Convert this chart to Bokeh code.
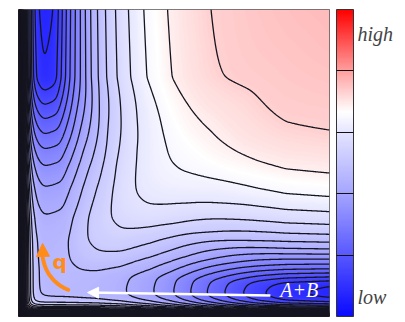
import numpy as np
from bokeh.plotting import figure
from bokeh.models import LinearColorMapper, ColorBar, FixedTicker, Arrow, NormalHead, Label
from bokeh.embed import file_html
from bokeh.resources import INLINE

# ---- data (normalized plot coordinates 0..1) ----
valley_left_p = 0.080      # centre of the left valley
valley_bottom_q = 0.068    # centre of the bottom valley
# across-valley rise: distance from valley centre (px) -> fraction of rise to plateau
across_px = [0, 11, 15, 19, 23, 27, 32, 37, 42, 47, 54, 62, 72, 85, 100, 124, 167, 250, 400]
across_g = [0.0, 0.035, 0.096, 0.158, 0.219, 0.280, 0.341, 0.403, 0.464, 0.525, 0.586,
            0.648, 0.709, 0.770, 0.831, 0.893, 0.954, 0.992, 1.0]
# valley floor along the left valley (vs q) and along the bottom valley (vs p)
left_s = [0.0, 0.15, 0.25, 0.3225, 0.4169, 0.4853, 0.5407, 0.5896, 0.6384, 0.6840, 0.7296, 0.7785, 1.0]
left_f = [0.62, 0.62, 0.61, 0.587, 0.533, 0.480, 0.427, 0.373, 0.320, 0.267, 0.213, 0.160, 0.13]
bottom_s = [0.0, 0.15, 0.25, 0.331, 0.424, 0.489, 0.543, 0.595, 0.650, 0.707, 0.772, 0.859, 1.0]
bottom_f = [0.62, 0.62, 0.61, 0.587, 0.533, 0.480, 0.427, 0.373, 0.320, 0.267, 0.213, 0.160, 0.13]
floor_far, floor_saddle = 0.13, 0.62
saddle_widening = 0.8
inner_side_steepness = 1.3
wall_height = 1.71
wall_decay = 70.0
level_base = 0.160
level_step = 0.0533
# colour scale
v_low, v_high = 0.0556, 1.292
cmap_t = [0.0, 0.2, 0.4, 0.6, 0.667, 0.8, 1.0]
cmap_rgb = [(10, 10, 255), (88, 88, 255), (165, 165, 255), (228, 228, 255),
            (255, 255, 255), (255, 160, 160), (255, 0, 0)]
bar_labels = {"low": 0.065, "high": 0.92}
bar_separators = [0.2, 0.4, 0.6, 0.8]


def smin(a, b, k):
    mm = np.minimum(a, b)
    return mm - k * np.log1p(np.exp(-np.abs(a - b) / k))


def blur(z, s):
    r = int(3 * s)
    x = np.arange(-r, r + 1)
    ker = np.exp(-x ** 2 / (2 * s * s)); ker /= ker.sum()
    zp = np.pad(z, r, mode="edge")
    zp = np.apply_along_axis(lambda v: np.convolve(v, ker, mode="same"), 0, zp)
    zp = np.apply_along_axis(lambda v: np.convolve(v, ker, mode="same"), 1, zp)
    return zp[r:-r, r:-r]


# ---- build the surface ----
n = 401
pg = np.linspace(0, 1, n)
qg = np.linspace(0, 1, n)
P, Q = np.meshgrid(pg, qg)
d1 = P - valley_left_p
d2 = Q - valley_bottom_q
k = 0.03 + 0.10 * np.maximum(np.minimum(d1, d2), 0)
d = smin(d1, d2, k)
wl = 1.0 / (1.0 + np.exp(np.clip((d1 - d2) / 0.05, -50, 50)))
F = wl * np.interp(Q, left_s, left_f) + (1 - wl) * np.interp(P, bottom_s, bottom_f)
sigma = 1 + saddle_widening * np.clip((F - floor_far) / (floor_saddle - floor_far), 0, 1)
dd = np.where(d > 0, d, -inner_side_steepness * d)
G = np.interp(dd / sigma, np.array(across_px) / 311.0, across_g)
V = blur(F + (1 - F) * G, 3.0)
edge = smin(P, Q, 0.01)
V = V + wall_height * np.exp(-wall_decay * edge)

levels = level_base + level_step * np.arange(-2, 300)
levels = levels[levels < V.max()]

# ---- palette ----
ts = np.linspace(0, 1, 256)
rgb = np.array(cmap_rgb, dtype=float)
pal = []
for t in ts:
    r = np.interp(t, cmap_t, rgb[:, 0]); g = np.interp(t, cmap_t, rgb[:, 1]); b = np.interp(t, cmap_t, rgb[:, 2])
    pal.append("#%02x%02x%02x" % (int(round(r)), int(round(g)), int(round(b))))
mapper = LinearColorMapper(palette=pal, low=v_low, high=v_high)

p = figure(width=400, height=320, x_range=(0, 1), y_range=(0, 1),
           output_backend="svg", toolbar_location=None,
           min_border_left=18, min_border_top=9, min_border_bottom=4, min_border_right=71)
p.axis.visible = False
p.grid.visible = False
p.outline_line_color = "#555555"
p.outline_line_width = 1
p.background_fill_color = "white"

p.image(image=[V], x=0, y=0, dw=1, dh=1, color_mapper=mapper)
p.contour(x=pg, y=qg, z=V, levels=list(levels), line_color="#151520", line_width=1.3)

# ---- annotations (positions in normalized coordinates) ----
orange = "#ff8c1a"
arc_c = (0.206, 0.2085)
arc_rx, arc_ry = 0.1286, 0.130
arc_a = np.radians(np.linspace(249, 180, 40))
p.line(arc_c[0] + arc_rx * np.cos(arc_a), arc_c[1] + arc_ry * np.sin(arc_a),
       line_color=orange, line_width=4, line_cap="round")
p.add_layout(Arrow(end=NormalHead(size=13, fill_color=orange, line_color=orange),
                   x_start=0.0785, y_start=0.205, x_end=0.0775, y_end=0.238,
                   line_color=orange, line_width=4, line_alpha=0))
p.add_layout(Label(x=0.109, y=0.137, text="q", text_color=orange, text_font="DejaVu Sans",
                   text_font_style="bold", text_font_size="20px"))

p.add_layout(Arrow(end=NormalHead(size=11, fill_color="white", line_color="white"),
                   x_start=0.810, y_start=0.068, x_end=0.222, y_end=0.078,
                   line_color="white", line_width=2.5))
p.add_layout(Label(x=0.842, y=0.052, text="A+B", text_color="white", text_font="Liberation Serif",
                   text_font_style="italic", text_font_size="20px"))

# ---- colour bar ----
span = v_high - v_low
ticker = FixedTicker(ticks=[v_low + span * t for t in bar_labels.values()],
                     minor_ticks=[v_low + span * t for t in bar_separators])
cb = ColorBar(color_mapper=mapper, ticker=ticker, width=17, margin=0, padding=0,
              location=(7, 0),
              bar_line_color="#333333", bar_line_width=1,
              major_tick_line_color=None, minor_tick_in=17, minor_tick_out=0,
              minor_tick_line_color="#111111", minor_tick_line_width=1,
              major_label_overrides={v_low + span * t: lab for lab, t in bar_labels.items()},
              major_label_text_font="Liberation Serif", major_label_text_font_style="italic",
              major_label_text_font_size="20px", label_standoff=4,
              background_fill_color=None)
p.add_layout(cb, "right")

open("out.html", "w").write(file_html(p, INLINE))
